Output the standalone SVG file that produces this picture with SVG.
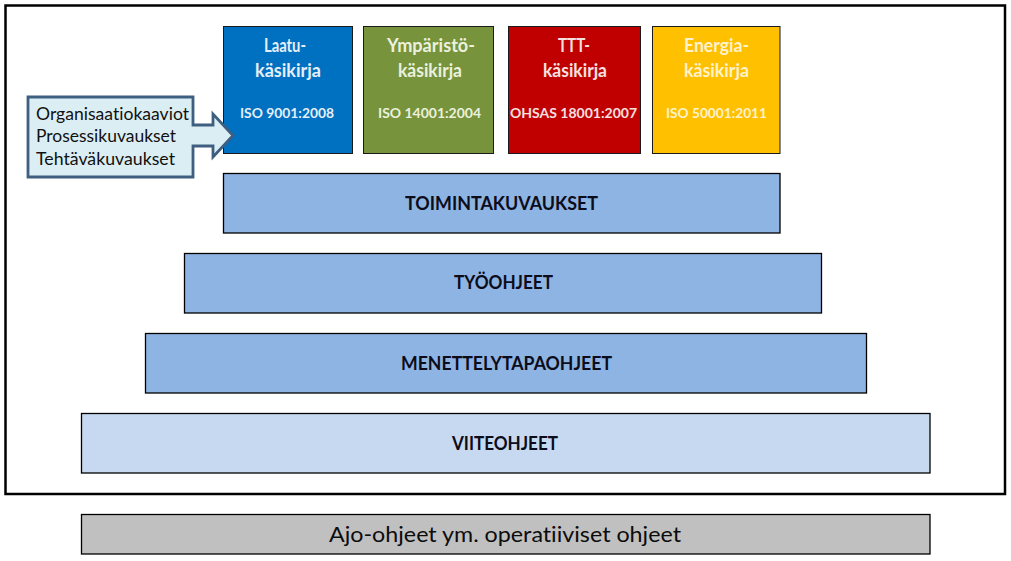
<svg xmlns="http://www.w3.org/2000/svg" width="1011" height="561" viewBox="0 0 1011 561">
<style>
text{font-variant-ligatures:none;font-feature-settings:"liga" 0}
.box{stroke:#1a1a1a;stroke-width:1}
.bar{stroke:#000;stroke-width:1.3}
.t{font-family:Lato,"Open Sans","Liberation Sans",sans-serif;font-weight:bold;text-anchor:middle}
.title{font-size:18px}
.iso{font-size:13.5px}
.lbl{font-size:18.5px;fill:#0c0c1a}
.call{font-family:Lato,"Open Sans","Liberation Sans",sans-serif;font-size:17px;fill:#111}
</style>
<rect x="0" y="0" width="1011" height="561" fill="#fff"/>
<g id="frame"><rect x="5.5" y="5.5" width="999.5" height="488.5" fill="none" stroke="#000" stroke-width="2.5"/></g>
<g id="connectors"/>
<g id="laatu">
<rect class="box" x="223.5" y="26.5" width="129" height="127" fill="#0070C0"/>
<text class="t title" x="285" y="52" fill="#E6EEF8" textLength="42" lengthAdjust="spacingAndGlyphs">Laatu-</text>
<text class="t title" x="288" y="77" fill="#E6EEF8" textLength="66" lengthAdjust="spacingAndGlyphs">käsikirja</text>
<text class="t iso" x="287" y="118" fill="#E6EEF8" textLength="94" lengthAdjust="spacingAndGlyphs">ISO 9001:2008</text>
</g>
<g id="ymparisto">
<rect class="box" x="363.5" y="26.5" width="130" height="127" fill="#77933C"/>
<text class="t title" x="431" y="52" fill="#EBF1DE" textLength="88" lengthAdjust="spacingAndGlyphs">Ympäristö-</text>
<text class="t title" x="430" y="77" fill="#EBF1DE" textLength="64" lengthAdjust="spacingAndGlyphs">käsikirja</text>
<text class="t iso" x="429.5" y="118" fill="#EBF1DE" textLength="103" lengthAdjust="spacingAndGlyphs">ISO 14001:2004</text>
</g>
<g id="ttt">
<rect class="box" x="508.5" y="26.5" width="132" height="127" fill="#C00000"/>
<text class="t title" x="574" y="52" fill="#F5E0E0" textLength="32" lengthAdjust="spacingAndGlyphs">TTT-</text>
<text class="t title" x="575" y="77" fill="#F5E0E0" textLength="64" lengthAdjust="spacingAndGlyphs">käsikirja</text>
<text class="t iso" x="573.5" y="118" fill="#F5E0E0" textLength="127" lengthAdjust="spacingAndGlyphs">OHSAS 18001:2007</text>
</g>
<g id="energia">
<rect class="box" x="652.5" y="26.5" width="127.5" height="127" fill="#FFC000"/>
<text class="t title" x="716.5" y="52" fill="#FFF2CC" textLength="65" lengthAdjust="spacingAndGlyphs">Energia-</text>
<text class="t title" x="716.5" y="77" fill="#FFF2CC" textLength="65" lengthAdjust="spacingAndGlyphs">käsikirja</text>
<text class="t iso" x="716.5" y="118" fill="#FFF2CC" textLength="101" lengthAdjust="spacingAndGlyphs">ISO 50001:2011</text>
</g>
<g id="callout">
<path d="M28,97 H193 V125 H213 V114 L233,135.5 L213,157 V146 H193 V177 H28 Z" fill="#DBEEF4" stroke="#3E5F80" stroke-width="2.8" stroke-linejoin="miter"/>
<text class="call" x="36" y="120" textLength="153" lengthAdjust="spacingAndGlyphs">Organisaatiokaaviot</text>
<text class="call" x="36" y="142" textLength="140" lengthAdjust="spacingAndGlyphs">Prosessikuvaukset</text>
<text class="call" x="36" y="165" textLength="139" lengthAdjust="spacingAndGlyphs">Tehtäväkuvaukset</text>
</g>
<g id="toimintakuvaukset">
<rect class="bar" x="223.5" y="173.5" width="556.5" height="59.5" fill="#8EB4E3"/>
<text class="t lbl" x="501.5" y="210" textLength="193" lengthAdjust="spacingAndGlyphs">TOIMINTAKUVAUKSET</text>
</g>
<g id="tyoohjeet">
<rect class="bar" x="184.5" y="253.5" width="637" height="59.5" fill="#8EB4E3"/>
<text class="t lbl" x="503.5" y="289" textLength="99" lengthAdjust="spacingAndGlyphs">TYÖOHJEET</text>
</g>
<g id="menettelytapaohjeet">
<rect class="bar" x="145.5" y="333.5" width="721" height="59.5" fill="#8EB4E3"/>
<text class="t lbl" x="506.5" y="370" textLength="211" lengthAdjust="spacingAndGlyphs">MENETTELYTAPAOHJEET</text>
</g>
<g id="viiteohjeet">
<rect class="bar" x="81.5" y="413.5" width="848.5" height="59.5" fill="#C6D9F1"/>
<text class="t lbl" x="505" y="450" textLength="106" lengthAdjust="spacingAndGlyphs">VIITEOHJEET</text>
</g>
<g id="ajo-ohjeet">
<rect class="bar" x="81.5" y="514.5" width="848.5" height="39.5" fill="#C0C0C0"/>
<text x="505" y="542" font-family="Lato,'Open Sans','Liberation Sans',sans-serif" font-size="21px" fill="#0c0c0c" text-anchor="middle" textLength="352" lengthAdjust="spacingAndGlyphs">Ajo-ohjeet ym. operatiiviset ohjeet</text>
</g>
</svg>
